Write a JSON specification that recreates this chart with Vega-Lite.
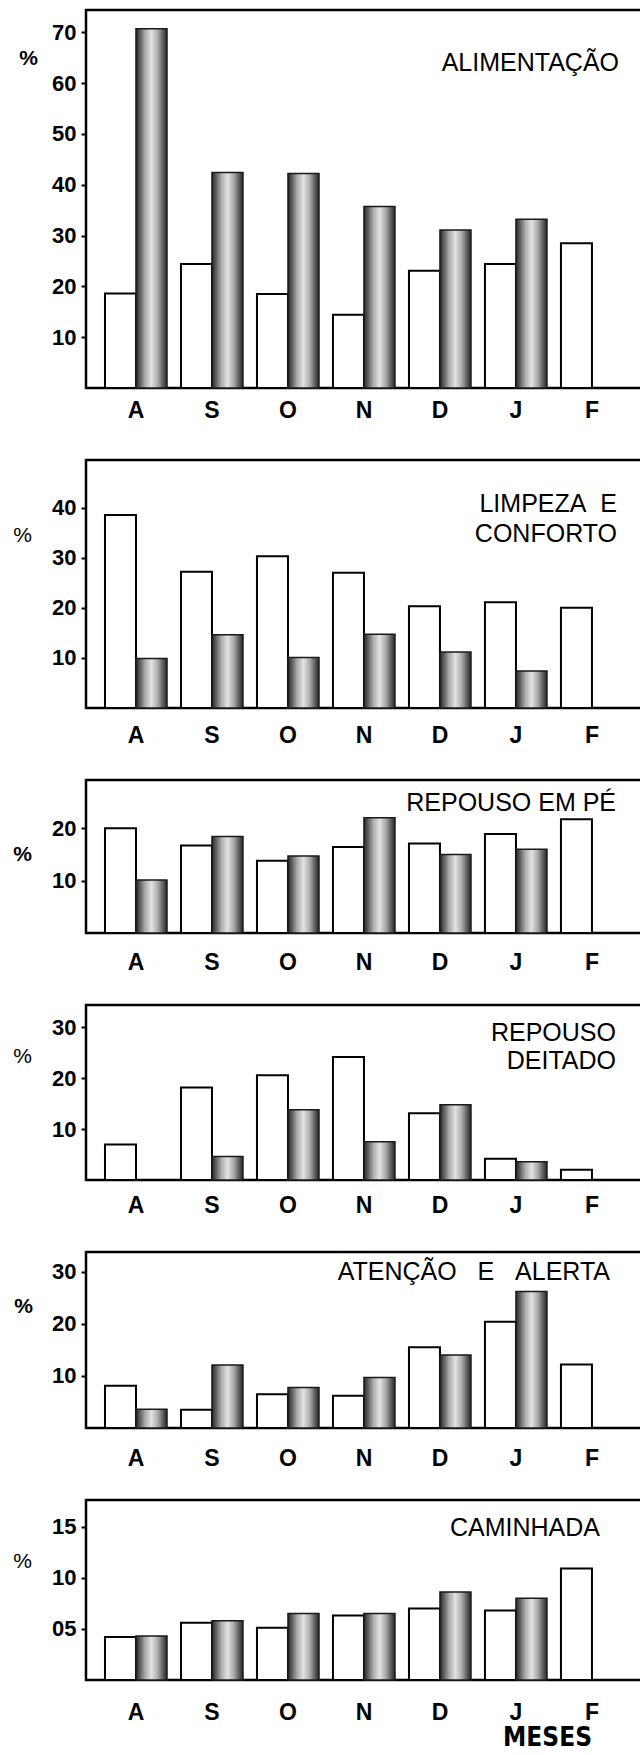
{
  "$schema": "https://vega.github.io/schema/vega-lite/v6.json",
  "autosize": {"type": "pad"},
  "padding": {"left": 11, "top": 8, "right": 0, "bottom": 0},
  "background": "white",
  "data": {"values": [
    {"p":1,"m":"A","s":"w","v":18.6},{"p":1,"m":"A","s":"d","v":70.7},
    {"p":1,"m":"S","s":"w","v":24.4},{"p":1,"m":"S","s":"d","v":42.4},
    {"p":1,"m":"O","s":"w","v":18.5},{"p":1,"m":"O","s":"d","v":42.2},
    {"p":1,"m":"N","s":"w","v":14.4},{"p":1,"m":"N","s":"d","v":35.7},
    {"p":1,"m":"D","s":"w","v":23.1},{"p":1,"m":"D","s":"d","v":31.1},
    {"p":1,"m":"J","s":"w","v":24.4},{"p":1,"m":"J","s":"d","v":33.2},
    {"p":1,"m":"F","s":"w","v":28.5},
    {"p":2,"m":"A","s":"w","v":38.5},{"p":2,"m":"A","s":"d","v":9.9},
    {"p":2,"m":"S","s":"w","v":27.2},{"p":2,"m":"S","s":"d","v":14.6},
    {"p":2,"m":"O","s":"w","v":30.3},{"p":2,"m":"O","s":"d","v":10.1},
    {"p":2,"m":"N","s":"w","v":27.0},{"p":2,"m":"N","s":"d","v":14.7},
    {"p":2,"m":"D","s":"w","v":20.3},{"p":2,"m":"D","s":"d","v":11.2},
    {"p":2,"m":"J","s":"w","v":21.1},{"p":2,"m":"J","s":"d","v":7.4},
    {"p":2,"m":"F","s":"w","v":20.0},
    {"p":3,"m":"A","s":"w","v":20.0},{"p":3,"m":"A","s":"d","v":10.1},
    {"p":3,"m":"S","s":"w","v":16.7},{"p":3,"m":"S","s":"d","v":18.4},
    {"p":3,"m":"O","s":"w","v":13.8},{"p":3,"m":"O","s":"d","v":14.7},
    {"p":3,"m":"N","s":"w","v":16.4},{"p":3,"m":"N","s":"d","v":22.0},
    {"p":3,"m":"D","s":"w","v":17.1},{"p":3,"m":"D","s":"d","v":15.0},
    {"p":3,"m":"J","s":"w","v":18.9},{"p":3,"m":"J","s":"d","v":16.0},
    {"p":3,"m":"F","s":"w","v":21.7},
    {"p":4,"m":"A","s":"w","v":7.0},
    {"p":4,"m":"S","s":"w","v":18.2},{"p":4,"m":"S","s":"d","v":4.6},
    {"p":4,"m":"O","s":"w","v":20.6},{"p":4,"m":"O","s":"d","v":13.8},
    {"p":4,"m":"N","s":"w","v":24.2},{"p":4,"m":"N","s":"d","v":7.5},
    {"p":4,"m":"D","s":"w","v":13.1},{"p":4,"m":"D","s":"d","v":14.8},
    {"p":4,"m":"J","s":"w","v":4.2},{"p":4,"m":"J","s":"d","v":3.6},
    {"p":4,"m":"F","s":"w","v":2.0},
    {"p":5,"m":"A","s":"w","v":8.1},{"p":5,"m":"A","s":"d","v":3.6},
    {"p":5,"m":"S","s":"w","v":3.5},{"p":5,"m":"S","s":"d","v":12.1},
    {"p":5,"m":"O","s":"w","v":6.5},{"p":5,"m":"O","s":"d","v":7.8},
    {"p":5,"m":"N","s":"w","v":6.2},{"p":5,"m":"N","s":"d","v":9.7},
    {"p":5,"m":"D","s":"w","v":15.5},{"p":5,"m":"D","s":"d","v":14.0},
    {"p":5,"m":"J","s":"w","v":20.4},{"p":5,"m":"J","s":"d","v":26.2},
    {"p":5,"m":"F","s":"w","v":12.2},
    {"p":6,"m":"A","s":"w","v":4.2},{"p":6,"m":"A","s":"d","v":4.3},
    {"p":6,"m":"S","s":"w","v":5.6},{"p":6,"m":"S","s":"d","v":5.8},
    {"p":6,"m":"O","s":"w","v":5.1},{"p":6,"m":"O","s":"d","v":6.5},
    {"p":6,"m":"N","s":"w","v":6.3},{"p":6,"m":"N","s":"d","v":6.5},
    {"p":6,"m":"D","s":"w","v":7.0},{"p":6,"m":"D","s":"d","v":8.6},
    {"p":6,"m":"J","s":"w","v":6.8},{"p":6,"m":"J","s":"d","v":8.0},
    {"p":6,"m":"F","s":"w","v":10.9}
  ]},
  "spacing": 72,
  "bounds": "flush",
  "vconcat": [
    {
      "width": 580, "height": 378,
      "title": {"text": "ALIMENTAÇÃO", "orient": "top", "anchor": "end", "frame": "group", "align": "right", "baseline": "alphabetic", "offset": -86, "dx": -47, "fontSize": 25, "fontWeight": "normal", "font": "Liberation Sans", "color": "black"},
      "transform": [{"filter": "datum.p == 1"}],
      "encoding": {
        "x": {"field": "m", "type": "nominal", "sort": null, "scale": {"domain": ["A","S","O","N","D","J","F"], "paddingInner": 0.184, "paddingOuter": 0.408, "align": 0.306}, "axis": {"title": null, "labelAngle": 0, "labelPadding": 11}},
        "xOffset": {"field": "s", "type": "nominal", "scale": {"domain": ["w","d"], "paddingInner": 0, "paddingOuter": 0}},
        "y": {"field": "v", "type": "quantitative", "scale": {"domain": [0, 74.4], "nice": false, "zero": true}, "axis": {"values": [10,20,30,40,50,60,70], "title": "%", "titleAngle": 0, "titleX": -58, "titleY": 48, "titleAlign": "center", "titleBaseline": "middle", "titleFontSize": 21, "titleFontWeight": "bold"}}
      },
      "layer": [
        {"transform": [{"filter": "datum.s == 'w'"}], "mark": {"type": "bar", "fill": "white", "stroke": "black", "strokeWidth": 2}},
        {"transform": [{"filter": "datum.s == 'd'"}], "mark": {"type": "bar", "stroke": "#1a1a1a", "strokeWidth": 1.5, "fill": {"gradient": "linear", "x1": 0, "y1": 0, "x2": 1, "y2": 0, "stops": [{"offset": 0, "color": "#262626"}, {"offset": 0.12, "color": "#5a5a5a"}, {"offset": 0.3, "color": "#acacac"}, {"offset": 0.5, "color": "#e2e2e2"}, {"offset": 0.7, "color": "#acacac"}, {"offset": 0.88, "color": "#5a5a5a"}, {"offset": 1, "color": "#262626"}]}}}
      ]
    },
    {
      "width": 580, "height": 248,
      "title": {"text": ["LIMPEZA\u00a0\u00a0E", "CONFORTO"], "orient": "top", "anchor": "end", "frame": "group", "align": "right", "baseline": "alphabetic", "offset": -107, "dx": -49, "lineHeight": 30, "fontSize": 25, "fontWeight": "normal", "font": "Liberation Sans", "color": "black"},
      "transform": [{"filter": "datum.p == 2"}],
      "encoding": {
        "x": {"field": "m", "type": "nominal", "sort": null, "scale": {"domain": ["A","S","O","N","D","J","F"], "paddingInner": 0.184, "paddingOuter": 0.408, "align": 0.306}, "axis": {"title": null, "labelAngle": 0, "labelPadding": 16}},
        "xOffset": {"field": "s", "type": "nominal", "scale": {"domain": ["w","d"], "paddingInner": 0, "paddingOuter": 0}},
        "y": {"field": "v", "type": "quantitative", "scale": {"domain": [0, 49.5], "nice": false, "zero": true}, "axis": {"values": [10,20,30,40], "title": "%", "titleAngle": 0, "titleX": -64, "titleY": 75, "titleAlign": "center", "titleBaseline": "middle", "titleFontSize": 21, "titleFontWeight": "normal"}}
      },
      "layer": [
        {"transform": [{"filter": "datum.s == 'w'"}], "mark": {"type": "bar", "fill": "white", "stroke": "black", "strokeWidth": 2}},
        {"transform": [{"filter": "datum.s == 'd'"}], "mark": {"type": "bar", "stroke": "#1a1a1a", "strokeWidth": 1.5, "fill": {"gradient": "linear", "x1": 0, "y1": 0, "x2": 1, "y2": 0, "stops": [{"offset": 0, "color": "#262626"}, {"offset": 0.12, "color": "#5a5a5a"}, {"offset": 0.3, "color": "#acacac"}, {"offset": 0.5, "color": "#e2e2e2"}, {"offset": 0.7, "color": "#acacac"}, {"offset": 0.88, "color": "#5a5a5a"}, {"offset": 1, "color": "#262626"}]}}}
      ]
    },
    {
      "width": 580, "height": 153,
      "title": {"text": "REPOUSO EM PÉ", "orient": "top", "anchor": "end", "frame": "group", "align": "right", "baseline": "alphabetic", "offset": -56, "dx": -50, "fontSize": 25, "fontWeight": "normal", "font": "Liberation Sans", "color": "black"},
      "transform": [{"filter": "datum.p == 3"}],
      "encoding": {
        "x": {"field": "m", "type": "nominal", "sort": null, "scale": {"domain": ["A","S","O","N","D","J","F"], "paddingInner": 0.184, "paddingOuter": 0.408, "align": 0.306}, "axis": {"title": null, "labelAngle": 0, "labelPadding": 18}},
        "xOffset": {"field": "s", "type": "nominal", "scale": {"domain": ["w","d"], "paddingInner": 0, "paddingOuter": 0}},
        "y": {"field": "v", "type": "quantitative", "scale": {"domain": [0, 29.2], "nice": false, "zero": true}, "axis": {"values": [10,20], "title": "%", "titleAngle": 0, "titleX": -64, "titleY": 74, "titleAlign": "center", "titleBaseline": "middle", "titleFontSize": 21, "titleFontWeight": "bold"}}
      },
      "layer": [
        {"transform": [{"filter": "datum.s == 'w'"}], "mark": {"type": "bar", "fill": "white", "stroke": "black", "strokeWidth": 2}},
        {"transform": [{"filter": "datum.s == 'd'"}], "mark": {"type": "bar", "stroke": "#1a1a1a", "strokeWidth": 1.5, "fill": {"gradient": "linear", "x1": 0, "y1": 0, "x2": 1, "y2": 0, "stops": [{"offset": 0, "color": "#262626"}, {"offset": 0.12, "color": "#5a5a5a"}, {"offset": 0.3, "color": "#acacac"}, {"offset": 0.5, "color": "#e2e2e2"}, {"offset": 0.7, "color": "#acacac"}, {"offset": 0.88, "color": "#5a5a5a"}, {"offset": 1, "color": "#262626"}]}}}
      ]
    },
    {
      "width": 580, "height": 175,
      "title": {"text": ["REPOUSO", "DEITADO"], "orient": "top", "anchor": "end", "frame": "group", "align": "right", "baseline": "alphabetic", "offset": -89, "dx": -50, "lineHeight": 28, "fontSize": 25, "fontWeight": "normal", "font": "Liberation Sans", "color": "black"},
      "transform": [{"filter": "datum.p == 4"}],
      "encoding": {
        "x": {"field": "m", "type": "nominal", "sort": null, "scale": {"domain": ["A","S","O","N","D","J","F"], "paddingInner": 0.184, "paddingOuter": 0.408, "align": 0.306}, "axis": {"title": null, "labelAngle": 0, "labelPadding": 14}},
        "xOffset": {"field": "s", "type": "nominal", "scale": {"domain": ["w","d"], "paddingInner": 0, "paddingOuter": 0}},
        "y": {"field": "v", "type": "quantitative", "scale": {"domain": [0, 34.4], "nice": false, "zero": true}, "axis": {"values": [10,20,30], "title": "%", "titleAngle": 0, "titleX": -64, "titleY": 51, "titleAlign": "center", "titleBaseline": "middle", "titleFontSize": 21, "titleFontWeight": "normal"}}
      },
      "layer": [
        {"transform": [{"filter": "datum.s == 'w'"}], "mark": {"type": "bar", "fill": "white", "stroke": "black", "strokeWidth": 2}},
        {"transform": [{"filter": "datum.s == 'd'"}], "mark": {"type": "bar", "stroke": "#1a1a1a", "strokeWidth": 1.5, "fill": {"gradient": "linear", "x1": 0, "y1": 0, "x2": 1, "y2": 0, "stops": [{"offset": 0, "color": "#262626"}, {"offset": 0.12, "color": "#5a5a5a"}, {"offset": 0.3, "color": "#acacac"}, {"offset": 0.5, "color": "#e2e2e2"}, {"offset": 0.7, "color": "#acacac"}, {"offset": 0.88, "color": "#5a5a5a"}, {"offset": 1, "color": "#262626"}]}}}
      ]
    },
    {
      "width": 580, "height": 176,
      "title": {"text": "ATENÇÃO\u00a0\u00a0\u00a0E\u00a0\u00a0\u00a0ALERTA", "orient": "top", "anchor": "end", "frame": "group", "align": "right", "baseline": "alphabetic", "offset": -53, "dx": -56, "fontSize": 25, "fontWeight": "normal", "font": "Liberation Sans", "color": "black"},
      "transform": [{"filter": "datum.p == 5"}],
      "encoding": {
        "x": {"field": "m", "type": "nominal", "sort": null, "scale": {"domain": ["A","S","O","N","D","J","F"], "paddingInner": 0.184, "paddingOuter": 0.408, "align": 0.306}, "axis": {"title": null, "labelAngle": 0, "labelPadding": 19}},
        "xOffset": {"field": "s", "type": "nominal", "scale": {"domain": ["w","d"], "paddingInner": 0, "paddingOuter": 0}},
        "y": {"field": "v", "type": "quantitative", "scale": {"domain": [0, 33.8], "nice": false, "zero": true}, "axis": {"values": [10,20,30], "title": "%", "titleAngle": 0, "titleX": -63, "titleY": 54, "titleAlign": "center", "titleBaseline": "middle", "titleFontSize": 21, "titleFontWeight": "bold"}}
      },
      "layer": [
        {"transform": [{"filter": "datum.s == 'w'"}], "mark": {"type": "bar", "fill": "white", "stroke": "black", "strokeWidth": 2}},
        {"transform": [{"filter": "datum.s == 'd'"}], "mark": {"type": "bar", "stroke": "#1a1a1a", "strokeWidth": 1.5, "fill": {"gradient": "linear", "x1": 0, "y1": 0, "x2": 1, "y2": 0, "stops": [{"offset": 0, "color": "#262626"}, {"offset": 0.12, "color": "#5a5a5a"}, {"offset": 0.3, "color": "#acacac"}, {"offset": 0.5, "color": "#e2e2e2"}, {"offset": 0.7, "color": "#acacac"}, {"offset": 0.88, "color": "#5a5a5a"}, {"offset": 1, "color": "#262626"}]}}}
      ]
    },
    {
      "width": 580, "height": 180,
      "title": {"text": "CAMINHADA", "orient": "top", "anchor": "end", "frame": "group", "align": "right", "baseline": "alphabetic", "offset": -61, "dx": -66, "fontSize": 25, "fontWeight": "normal", "font": "Liberation Sans", "color": "black"},
      "transform": [{"filter": "datum.p == 6"}],
      "encoding": {
        "x": {"field": "m", "type": "nominal", "sort": null, "scale": {"domain": ["A","S","O","N","D","J","F"], "paddingInner": 0.184, "paddingOuter": 0.408, "align": 0.306}, "axis": {"title": "MESES", "labelAngle": 0, "labelPadding": 21, "titleX": 461, "titleY": 65, "titleAlign": "center", "titleBaseline": "alphabetic", "titleFont": "DejaVu Sans Condensed, DejaVu Sans, Liberation Sans", "titleFontWeight": "bold", "titleFontSize": 26, "titleColor": "black"}},
        "xOffset": {"field": "s", "type": "nominal", "scale": {"domain": ["w","d"], "paddingInner": 0, "paddingOuter": 0}},
        "y": {"field": "v", "type": "quantitative", "scale": {"domain": [0, 17.6], "nice": false, "zero": true}, "axis": {"values": [5,10,15], "labelExpr": "datum.value < 10 ? '0' + datum.value : '' + datum.value", "title": "%", "titleAngle": 0, "titleX": -64, "titleY": 61, "titleAlign": "center", "titleBaseline": "middle", "titleFontSize": 21, "titleFontWeight": "normal"}}
      },
      "layer": [
        {"transform": [{"filter": "datum.s == 'w'"}], "mark": {"type": "bar", "fill": "white", "stroke": "black", "strokeWidth": 2}},
        {"transform": [{"filter": "datum.s == 'd'"}], "mark": {"type": "bar", "stroke": "#1a1a1a", "strokeWidth": 1.5, "fill": {"gradient": "linear", "x1": 0, "y1": 0, "x2": 1, "y2": 0, "stops": [{"offset": 0, "color": "#262626"}, {"offset": 0.12, "color": "#5a5a5a"}, {"offset": 0.3, "color": "#acacac"}, {"offset": 0.5, "color": "#e2e2e2"}, {"offset": 0.7, "color": "#acacac"}, {"offset": 0.88, "color": "#5a5a5a"}, {"offset": 1, "color": "#262626"}]}}}
      ]
    }
  ],
  "config": {
    "font": "Liberation Sans",
    "view": {"stroke": "black", "strokeWidth": 2.5},
    "axis": {"grid": false, "domain": false, "labelColor": "black", "labelFont": "Liberation Sans", "labelFontWeight": "bold", "titleColor": "black", "titleFont": "Liberation Sans"},
    "axisX": {"ticks": false, "labelFontSize": 23},
    "axisY": {"ticks": true, "tickColor": "black", "tickSize": 5, "tickWidth": 2, "labelPadding": 5, "labelFontSize": 22}
  }
}
